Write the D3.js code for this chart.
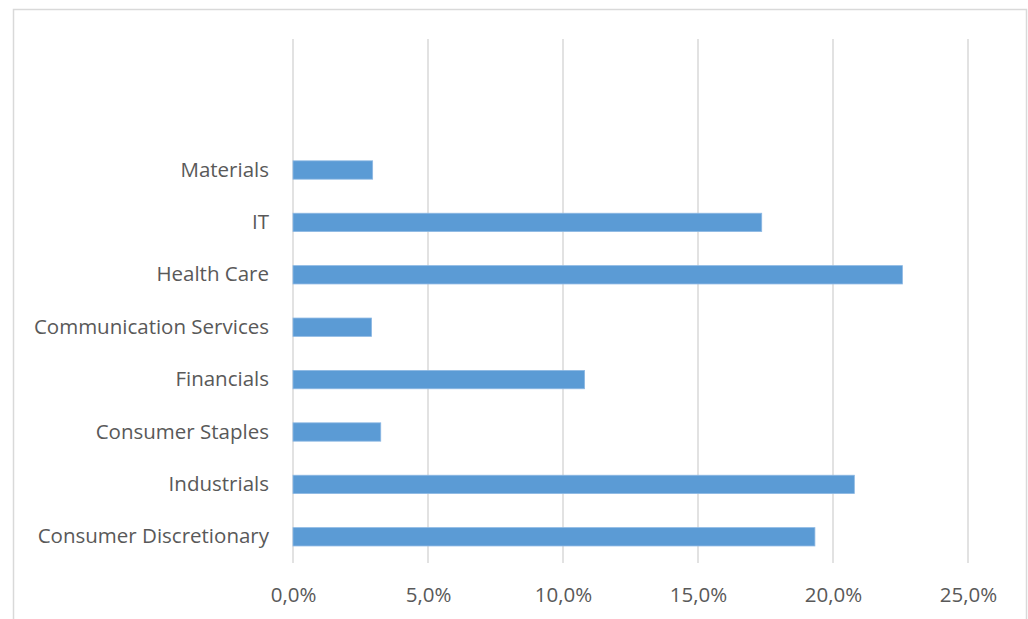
<!DOCTYPE html>
<html>
<head>
<meta charset="utf-8">
<script src="https://cdn.jsdelivr.net/npm/d3@7"></script>
<style>
  body { margin: 0; background: #fff; }
  svg { display: block; }
</style>
</head>
<body>
<script>
// sectors, bottom to top as drawn
const sectors = ["Consumer Discretionary", "Industrials", "Consumer Staples", "Financials",
  "Communication Services", "Health Care", "IT", "Materials"];
const weights = [19.33, 20.79, 3.25, 10.80, 2.91, 22.57, 17.36, 2.95];
const tickValues = [0, 5, 10, 15, 20, 25];

const width = 1028, height = 619;
const margin = {top: 39, right: 60, bottom: 56, left: 293};
const slots = 10; // two empty slots sit above Materials
const fontSize = "20.5px";

const svg = d3.select("body").append("svg")
    .attr("width", width)
    .attr("height", height)
    .style("font-family", "'Open Sans', sans-serif");

// chart frame
svg.append("rect")
    .attr("x", 13.5).attr("y", 9.5)
    .attr("width", 1013).attr("height", 640)
    .attr("fill", "#fff")
    .attr("stroke", "#d9d9d9")
    .attr("stroke-width", 1.5);

const x = d3.scaleLinear()
    .domain([0, 25])
    .range([margin.left, margin.left + 675]);

const plotBottom = height - margin.bottom;
const slot = (plotBottom - margin.top) / slots;

const y = d3.scaleBand()
    .domain(sectors)
    .range([plotBottom, plotBottom - slot * sectors.length])
    .paddingInner(0.65)
    .paddingOuter(0.325);

// gridlines
svg.append("g")
    .attr("stroke", "#d9d9d9")
    .attr("stroke-width", 1.5)
  .selectAll("line")
  .data(tickValues)
  .join("line")
    .attr("x1", d => x(d)).attr("x2", d => x(d))
    .attr("y1", margin.top).attr("y2", plotBottom);

// x axis labels
const fmt = d => d3.format(".1f")(d).replace(".", ",") + "%";
svg.append("g")
    .attr("transform", `translate(0,${plotBottom})`)
    .call(d3.axisBottom(x).tickValues(tickValues).tickFormat(fmt).tickSize(0).tickPadding(24))
    .call(g => g.select(".domain").remove())
    .call(g => g.selectAll("text")
        .attr("fill", "#595959")
        .style("font-family", "'Open Sans', sans-serif")
        .style("font-size", fontSize));

// y axis labels
svg.append("g")
    .attr("transform", `translate(${margin.left},0)`)
    .call(d3.axisLeft(y).tickSize(0).tickPadding(24))
    .call(g => g.select(".domain").remove())
    .call(g => g.selectAll("text")
        .attr("fill", "#595959")
        .style("font-family", "'Open Sans', sans-serif")
        .style("font-size", fontSize));

// bars
svg.append("g")
  .selectAll("rect")
  .data(sectors.map((s, i) => ({s, v: weights[i]})))
  .join("rect")
    .attr("x", x(0))
    .attr("y", d => y(d.s))
    .attr("width", d => x(d.v) - x(0))
    .attr("height", y.bandwidth())
    .attr("fill", "#5b9bd5")
    .attr("stroke", "#8db8e3")
    .attr("stroke-width", 0.8);
</script>
</body>
</html>
